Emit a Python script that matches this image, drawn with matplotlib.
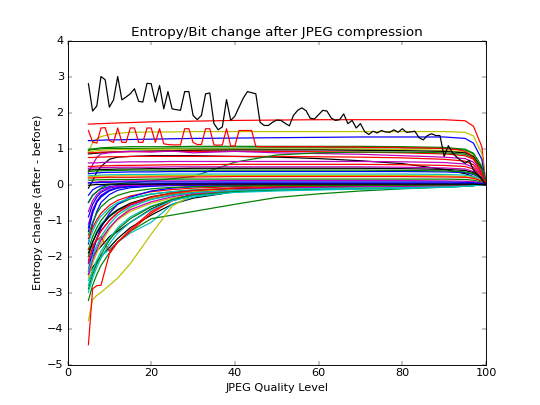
import numpy as np
import matplotlib
matplotlib.use("Agg")
import matplotlib.pyplot as plt

plt.style.use('classic')

quality = [5, 6, 7, 8, 10, 12, 15, 20, 25, 30, 40, 50, 60, 70, 80, 90, 95, 97, 99, 100]

# curves that stay above zero (flat, dropping to 0 at q=100)
upper_curves = [
    [1.68, 1.68, 1.69, 1.69, 1.70, 1.71, 1.72, 1.74, 1.75, 1.76, 1.78, 1.79, 1.80, 1.80, 1.80, 1.80, 1.77, 1.62, 1.05, 0.0],
    [0.92, 1.15, 1.27, 1.33, 1.39, 1.42, 1.45, 1.46, 1.46, 1.47, 1.47, 1.47, 1.47, 1.47, 1.47, 1.47, 1.45, 1.35, 0.85, 0.0],
    [1.22, 1.22, 1.23, 1.23, 1.24, 1.24, 1.25, 1.26, 1.27, 1.28, 1.29, 1.30, 1.31, 1.32, 1.32, 1.32, 1.28, 1.15, 0.70, 0.0],
    [0.95, 0.97, 0.98, 0.99, 1.00, 1.00, 1.00, 1.00, 1.01, 1.01, 1.01, 1.02, 1.02, 1.02, 1.02, 1.00, 0.96, 0.85, 0.50, 0.0],
    [0.98, 0.99, 1.00, 1.02, 1.03, 1.04, 1.05, 1.05, 1.05, 1.06, 1.06, 1.06, 1.06, 1.06, 1.05, 1.03, 0.98, 0.87, 0.50, 0.0],
    [0.90, 0.92, 0.94, 0.95, 0.96, 0.97, 0.97, 0.98, 0.98, 0.98, 0.98, 0.98, 0.98, 0.98, 0.97, 0.95, 0.90, 0.80, 0.46, 0.0],
    [0.85, 0.86, 0.87, 0.88, 0.90, 0.91, 0.92, 0.93, 0.94, 0.95, 0.96, 0.96, 0.96, 0.95, 0.94, 0.92, 0.88, 0.78, 0.45, 0.0],
    [0.88, 0.88, 0.89, 0.90, 0.90, 0.91, 0.91, 0.92, 0.92, 0.92, 0.92, 0.92, 0.91, 0.90, 0.88, 0.85, 0.80, 0.70, 0.40, 0.0],
    [0.34, 0.55, 0.75, 0.85, 0.88, 0.90, 0.92, 0.90, 0.93, 0.88, 0.92, 0.88, 0.86, 0.84, 0.80, 0.76, 0.72, 0.62, 0.35, 0.0],
    [-0.10, 0.10, 0.35, 0.50, 0.70, 0.76, 0.78, 0.80, 0.80, 0.80, 0.78, 0.76, 0.72, 0.66, 0.58, 0.42, 0.30, 0.22, 0.10, 0.0],
    [0.75, 0.75, 0.76, 0.76, 0.77, 0.77, 0.78, 0.78, 0.78, 0.78, 0.78, 0.78, 0.77, 0.76, 0.74, 0.70, 0.65, 0.55, 0.30, 0.0],
    [-0.50, -0.30, -0.20, -0.10, 0.00, 0.02, 0.05, 0.10, 0.16, 0.22, 0.62, 0.82, 0.88, 0.90, 0.90, 0.88, 0.84, 0.74, 0.42, 0.0],
    [0.60, 0.60, 0.60, 0.61, 0.62, 0.62, 0.63, 0.63, 0.64, 0.64, 0.64, 0.64, 0.64, 0.64, 0.63, 0.61, 0.57, 0.48, 0.27, 0.0],
    [0.50, 0.50, 0.51, 0.52, 0.52, 0.53, 0.53, 0.54, 0.55, 0.55, 0.56, 0.56, 0.56, 0.56, 0.55, 0.53, 0.50, 0.43, 0.24, 0.0],
    [0.45, 0.46, 0.46, 0.47, 0.47, 0.48, 0.48, 0.48, 0.49, 0.49, 0.49, 0.49, 0.49, 0.49, 0.48, 0.46, 0.43, 0.36, 0.20, 0.0],
    [0.40, 0.41, 0.41, 0.42, 0.42, 0.43, 0.43, 0.44, 0.44, 0.45, 0.45, 0.45, 0.45, 0.45, 0.44, 0.42, 0.39, 0.33, 0.18, 0.0],
    [0.30, 0.31, 0.32, 0.33, 0.34, 0.34, 0.35, 0.35, 0.36, 0.36, 0.36, 0.36, 0.36, 0.36, 0.36, 0.35, 0.33, 0.28, 0.16, 0.0],
    [0.36, 0.37, 0.38, 0.38, 0.39, 0.39, 0.40, 0.40, 0.40, 0.40, 0.40, 0.40, 0.40, 0.40, 0.39, 0.38, 0.35, 0.30, 0.17, 0.0],
    [0.24, 0.25, 0.25, 0.26, 0.27, 0.27, 0.28, 0.28, 0.29, 0.29, 0.29, 0.29, 0.29, 0.29, 0.29, 0.28, 0.26, 0.22, 0.12, 0.0],
    [0.22, 0.22, 0.23, 0.23, 0.23, 0.24, 0.24, 0.24, 0.25, 0.25, 0.25, 0.25, 0.25, 0.25, 0.25, 0.24, 0.22, 0.19, 0.11, 0.0],
    [0.18, 0.18, 0.19, 0.19, 0.20, 0.20, 0.20, 0.21, 0.21, 0.21, 0.22, 0.22, 0.22, 0.22, 0.22, 0.21, 0.20, 0.17, 0.10, 0.0],
    [0.12, 0.12, 0.13, 0.13, 0.14, 0.14, 0.14, 0.15, 0.15, 0.15, 0.15, 0.15, 0.15, 0.15, 0.15, 0.15, 0.14, 0.12, 0.07, 0.0],
    [0.05, 0.06, 0.07, 0.08, 0.09, 0.09, 0.10, 0.10, 0.10, 0.10, 0.11, 0.11, 0.11, 0.11, 0.11, 0.10, 0.09, 0.08, 0.04, 0.0],
    [0.04, 0.05, 0.05, 0.06, 0.06, 0.07, 0.07, 0.07, 0.07, 0.07, 0.07, 0.07, 0.07, 0.07, 0.07, 0.07, 0.06, 0.05, 0.03, 0.0],
    [-0.02, -0.01, 0.00, 0.00, 0.01, 0.01, 0.01, 0.01, 0.01, 0.01, 0.01, 0.01, 0.01, 0.01, 0.01, 0.01, 0.01, 0.01, 0.00, 0.0],
]
upper_colors = ['r', 'y', 'b', 'g', 'g', 'y', 'k', 'r', 'm', 'k', 'r', 'g', 'm', 'r', 'm',
                'k', 'b', 'g', 'c', 'y', 'r', 'g', 'm', 'b', 'k']

# curves that start well below zero and climb towards 0
lower_curves = [
    [-0.50, -0.30, -0.20, -0.12, -0.06, -0.03, -0.01, 0.00, 0.01, 0.01, 0.02, 0.02, 0.02, 0.02, 0.02, 0.02, 0.02, 0.01, 0.00, 0.0],
    [-0.90, -0.55, -0.35, -0.22, -0.10, -0.05, -0.03, -0.01, 0.00, 0.00, 0.00, 0.00, 0.00, 0.00, 0.00, 0.00, 0.00, 0.00, 0.00, 0.0],
    [-1.30, -0.80, -0.50, -0.35, -0.18, -0.10, -0.06, -0.03, -0.02, -0.01, 0.00, 0.00, 0.00, 0.00, 0.00, 0.00, 0.00, 0.00, 0.00, 0.0],
    [-1.65, -1.10, -0.75, -0.50, -0.28, -0.16, -0.09, -0.05, -0.03, -0.02, -0.01, -0.01, -0.01, 0.00, 0.00, 0.00, 0.00, 0.00, 0.00, 0.0],
    [-1.80, -1.45, -1.20, -1.00, -0.72, -0.55, -0.40, -0.27, -0.20, -0.15, -0.10, -0.07, -0.05, -0.04, -0.03, -0.02, -0.01, -0.01, 0.00, 0.0],
    [-1.50, -1.20, -0.98, -0.80, -0.58, -0.44, -0.32, -0.20, -0.14, -0.10, -0.06, -0.04, -0.03, -0.02, -0.02, -0.01, -0.01, 0.00, 0.00, 0.0],
    [-2.00, -1.60, -1.30, -1.10, -0.85, -0.70, -0.55, -0.40, -0.30, -0.22, -0.14, -0.10, -0.07, -0.05, -0.04, -0.03, -0.02, -0.01, 0.00, 0.0],
    [-1.10, -0.70, -0.45, -0.30, -0.15, -0.08, -0.04, -0.02, -0.01, 0.00, 0.01, 0.01, 0.01, 0.01, 0.01, 0.01, 0.01, 0.00, 0.00, 0.0],
    [-2.30, -1.95, -1.70, -1.50, -1.20, -0.98, -0.75, -0.52, -0.38, -0.28, -0.17, -0.12, -0.09, -0.07, -0.05, -0.04, -0.03, -0.02, -0.01, 0.0],
    [-2.16, -2.00, -1.85, -1.72, -1.45, -1.30, -1.05, -0.68, -0.42, -0.28, -0.15, -0.10, -0.07, -0.05, -0.04, -0.03, -0.02, -0.01, 0.00, 0.0],
    [-2.50, -2.30, -2.15, -2.00, -1.75, -1.50, -1.20, -0.85, -0.55, -0.38, -0.20, -0.12, -0.08, -0.06, -0.05, -0.04, -0.03, -0.02, -0.01, 0.0],
    [-2.67, -2.40, -2.20, -2.00, -1.80, -1.60, -1.35, -1.05, -0.55, -0.35, -0.20, -0.15, -0.12, -0.10, -0.08, -0.06, -0.04, -0.03, -0.01, 0.0],
    [-3.22, -2.80, -2.50, -2.25, -1.90, -1.60, -1.30, -0.95, -0.85, -0.75, -0.55, -0.36, -0.26, -0.18, -0.12, -0.07, -0.04, -0.03, -0.01, 0.0],
    [-3.78, -3.20, -3.08, -3.00, -2.80, -2.60, -2.20, -1.38, -0.60, -0.28, -0.10, -0.05, -0.03, -0.02, -0.02, -0.01, -0.01, 0.00, 0.00, 0.0],
    [-4.45, -2.90, -2.81, -2.80, -1.93, -1.60, -1.30, -0.80, -0.45, -0.28, -0.12, -0.06, -0.04, -0.03, -0.02, -0.01, -0.01, 0.00, 0.00, 0.0],
    [-1.80, -1.70, -1.55, -1.45, -1.85, -1.60, -1.25, -0.75, -0.45, -0.30, -0.15, -0.10, -0.07, -0.05, -0.04, -0.03, -0.02, -0.01, 0.00, 0.0],
    [-2.80, -2.40, -2.10, -1.85, -1.50, -1.20, -0.90, -0.60, -0.42, -0.30, -0.20, -0.15, -0.12, -0.10, -0.09, -0.07, -0.05, -0.03, -0.01, 0.0],
    [-2.00, -1.60, -1.35, -1.15, -0.90, -0.72, -0.55, -0.38, -0.28, -0.22, -0.16, -0.13, -0.11, -0.09, -0.08, -0.06, -0.04, -0.03, -0.01, 0.0],
    [-2.20, -1.80, -1.50, -1.28, -1.00, -0.78, -0.58, -0.38, -0.26, -0.18, -0.10, -0.07, -0.05, -0.04, -0.03, -0.02, -0.01, -0.01, 0.00, 0.0],
    [-2.40, -1.90, -1.50, -1.20, -0.80, -0.55, -0.35, -0.18, -0.10, -0.06, -0.03, -0.02, -0.02, -0.01, -0.01, -0.01, 0.00, 0.00, 0.00, 0.0],
    [-1.60, -1.30, -1.05, -0.88, -0.65, -0.50, -0.38, -0.26, -0.20, -0.16, -0.12, -0.10, -0.09, -0.08, -0.07, -0.05, -0.03, -0.02, -0.01, 0.0],
    [-1.90, -1.60, -1.35, -1.15, -0.88, -0.70, -0.52, -0.34, -0.24, -0.18, -0.12, -0.09, -0.07, -0.06, -0.05, -0.03, -0.02, -0.01, 0.00, 0.0],
    [-2.60, -2.20, -1.90, -1.65, -1.25, -0.95, -0.65, -0.38, -0.25, -0.19, -0.14, -0.12, -0.10, -0.09, -0.08, -0.06, -0.04, -0.02, -0.01, 0.0],
    [-2.90, -2.50, -2.20, -1.95, -1.55, -1.25, -0.95, -0.62, -0.42, -0.30, -0.20, -0.16, -0.14, -0.12, -0.10, -0.07, -0.05, -0.03, -0.01, 0.0],
    [-2.10, -1.75, -1.50, -1.30, -1.00, -0.78, -0.55, -0.35, -0.24, -0.17, -0.10, -0.07, -0.05, -0.04, -0.03, -0.02, -0.01, -0.01, 0.00, 0.0],
    [-0.30, -0.15, -0.08, -0.04, -0.01, 0.00, 0.01, 0.02, 0.03, 0.03, 0.04, 0.04, 0.04, 0.04, 0.04, 0.04, 0.03, 0.02, 0.01, 0.0],
    [-3.00, -2.60, -2.30, -2.05, -1.65, -1.35, -1.05, -0.70, -0.45, -0.32, -0.22, -0.18, -0.15, -0.13, -0.11, -0.08, -0.05, -0.03, -0.01, 0.0],
    [-1.20, -0.75, -0.48, -0.32, -0.16, -0.09, -0.05, -0.02, -0.01, 0.00, 0.00, 0.00, 0.00, 0.00, 0.00, 0.00, 0.00, 0.00, 0.00, 0.0],
    [-0.75, -0.45, -0.28, -0.18, -0.08, -0.04, -0.02, -0.01, 0.00, 0.00, 0.00, 0.00, 0.00, 0.00, 0.00, 0.00, 0.00, 0.00, 0.00, 0.0],
    [-2.50, -2.10, -1.80, -1.55, -1.20, -0.95, -0.70, -0.48, -0.34, -0.25, -0.15, -0.10, -0.08, -0.06, -0.05, -0.04, -0.03, -0.02, -0.01, 0.0],
    [-1.40, -1.05, -0.80, -0.62, -0.42, -0.30, -0.20, -0.12, -0.08, -0.06, -0.04, -0.03, -0.03, -0.02, -0.02, -0.01, -0.01, 0.00, 0.00, 0.0],
    [-2.40, -2.00, -1.70, -1.45, -1.10, -0.85, -0.62, -0.42, -0.30, -0.23, -0.16, -0.13, -0.11, -0.10, -0.09, -0.07, -0.05, -0.03, -0.01, 0.0],
]
lower_colors = ['b', 'b', 'b', 'b', 'g', 'r', 'c', 'm', 'y', 'k', 'k', 'c', 'g', 'y', 'r',
                'r', 'c', 'g', 'm', 'b', 'c', 'k', 'y', 'g', 'r', 'b', 'c', 'b', 'm', 'm', 'g', 'c']

# the two noisy curves, sampled at every quality level 5..100
levels = list(range(5, 101))
noisy_black = [2.80, 2.04, 2.18, 3.00, 2.91, 2.15, 2.35, 3.00, 2.35, 2.43, 2.52, 2.66, 2.31, 2.29, 2.81, 2.80,
               2.29, 2.75, 2.10, 2.58, 2.10, 2.08, 2.06, 2.58, 2.58, 1.92, 1.80, 1.92, 2.52, 2.54, 1.69, 1.52,
               1.60, 2.36, 1.78, 1.90, 2.15, 2.40, 2.58, 2.55, 2.52, 1.73, 1.64, 1.64, 1.73, 1.79, 1.78, 1.70,
               1.63, 1.92, 2.06, 2.13, 2.05, 1.84, 1.82, 1.94, 2.06, 2.04, 1.85, 1.78, 1.80, 1.96, 1.69, 1.78,
               1.57, 1.69, 1.47, 1.39, 1.48, 1.43, 1.50, 1.46, 1.45, 1.52, 1.45, 1.55, 1.45, 1.46, 1.48, 1.30,
               1.24, 1.36, 1.41, 1.36, 1.36, 0.78, 1.08, 0.88, 0.76, 0.67, 0.59, 0.67, 0.40, 0.28, 0.14, 0.00]
noisy_red = [1.50, 1.18, 1.15, 1.57, 1.58, 1.22, 1.17, 1.57, 1.17, 1.17, 1.57, 1.57, 1.17, 1.17, 1.57, 1.57,
             1.17, 1.55, 1.13, 1.11, 1.10, 1.10, 1.10, 1.55, 1.55, 1.17, 1.11, 1.11, 1.55, 1.55, 1.10, 1.09,
             1.10, 1.55, 1.07, 1.07, 1.50, 1.50, 1.50, 1.50, 1.06, 1.05, 1.05, 1.05, 1.05, 1.05, 1.05, 1.05,
             1.05, 1.05, 1.05, 1.05, 1.05, 1.05, 1.05, 1.05, 1.05, 1.04, 1.04, 1.04, 1.04, 1.04, 1.04, 1.04,
             1.04, 1.04, 1.03, 1.03, 1.03, 1.03, 1.03, 1.03, 1.03, 1.03, 1.03, 1.02, 1.02, 1.02, 1.02, 1.02,
             1.02, 1.01, 1.01, 1.01, 1.00, 1.00, 0.99, 0.98, 0.97, 0.95, 0.92, 0.85, 0.72, 0.52, 0.28, 0.00]

fig = plt.figure(figsize=(8, 6), dpi=67.5)
ax = fig.add_subplot(111)

for ys, c in zip(lower_curves, lower_colors):
    ax.plot(quality, ys, color=c, linewidth=1.3)
for ys, c in zip(upper_curves, upper_colors):
    ax.plot(quality, ys, color=c, linewidth=1.3)
ax.plot(levels, noisy_red, color='r', linewidth=1.3)
ax.plot(levels, noisy_black, color='k', linewidth=1.3)

ax.set_xlim(0, 100)
ax.set_ylim(-5, 4)
ax.set_title("Entropy/Bit change after JPEG compression")
ax.set_xlabel("JPEG Quality Level")
ax.set_ylabel("Entropy change (after - before)")

fig.savefig("out.png", dpi=67.5, facecolor='white')
